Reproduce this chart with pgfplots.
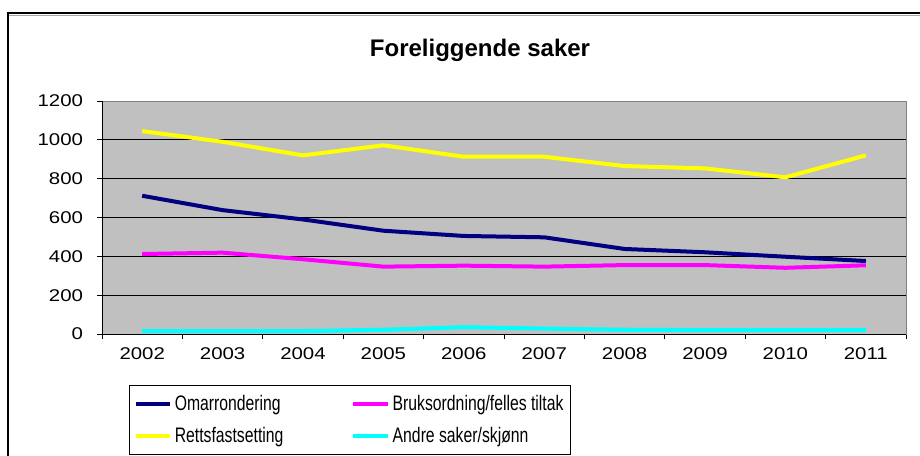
\documentclass[border=0pt]{standalone}
\usepackage{pgfplots}
\pgfplotsset{compat=1.18}
\usepackage{fontspec}
\setmainfont{Liberation Sans}
\newfontfamily\legfont[FakeStretch=0.75]{Liberation Sans}
\newfontfamily\tickfont[FakeStretch=1.2]{Liberation Sans}
\definecolor{navyc}{RGB}{0,0,128}
\definecolor{magc}{RGB}{255,0,255}
\definecolor{yelc}{RGB}{255,255,0}
\definecolor{cyac}{RGB}{0,255,255}
\definecolor{bgc}{RGB}{192,192,192}
\begin{document}
\begin{tikzpicture}
\useasboundingbox (0,0) rectangle (690pt,-341.25pt);
\clip (0,0) rectangle (690pt,-341.25pt);
\fill[white] (0,0) rectangle (690pt,-341.25pt);
\draw[gray!70, line width=0.75pt] (6.75pt,-11.4pt) -- (700pt,-11.4pt);
\draw[black, line width=1.5pt] (6pt,-400pt) -- (6pt,-10.1pt) -- (700pt,-10.1pt);
\node[font=\fontsize{18}{20}\selectfont\bfseries] at (360pt,-37.5pt) {Foreliggende saker};
\begin{axis}[
  at={(76.5pt,-250.5pt)}, anchor=south west,
  scale only axis, width=603pt, height=174.75pt,
  xmin=-0.5, xmax=9.5, ymin=0, ymax=1200,
  axis background/.style={fill=bgc},
  axis line style={gray, line width=0.75pt},
  xtick={0,...,9},
  xticklabels={2002,2003,2004,2005,2006,2007,2008,2009,2010,2011},
  major x tick style={draw=none},
  minor xtick={-0.5,0.5,...,9.5},
  minor tick length=3.75pt,
  major tick length=3.75pt,
  tick align=outside,
  tick pos=left,
  ytick={0,200,...,1200},
  ymajorgrids, grid style={black, line width=0.6pt},
  tick style={black, line width=0.6pt},
  ticklabel style={font=\tickfont\fontsize{12.75}{14}\selectfont},
  xticklabel style={yshift=-3pt},
  yticklabel style={xshift=-7pt},
  /pgf/number format/assume math mode=true,
  /pgf/number format/1000 sep={},
  legend columns=2,
  legend style={at={(0.0336,-0.219)}, anchor=north west,
    draw=black, line width=0.75pt, font=\legfont\fontsize{15.75}{17}\selectfont,
    inner xsep=3pt, inner ysep=5.5pt, row sep=7pt,
    /tikz/column 2/.style={column sep=49pt},
    /tikz/column 1/.style={column sep=0pt},
    /tikz/column 3/.style={column sep=0pt}},
  legend cell align=left,
  legend image code/.code={\draw[#1, line width=3pt] (0pt,0pt) -- (26pt,0pt);},
  every axis plot/.append style={line width=3pt},
]
\addplot[navyc] coordinates {(0,712) (1,638) (2,590) (3,532) (4,505) (5,498) (6,438) (7,421) (8,398) (9,376)};
\addlegendentry{Omarrondering}
\addplot[magc] coordinates {(0,412) (1,419) (2,385) (3,347) (4,352) (5,347) (6,355) (7,355) (8,341) (9,354)};
\addlegendentry{Bruksordning/felles tiltak}
\addplot[yelc] coordinates {(0,1045) (1,990) (2,920) (3,972) (4,913) (5,913) (6,865) (7,853) (8,807) (9,920)};
\addlegendentry{Rettsfastsetting}
\addplot[cyac] coordinates {(0,15) (1,15) (2,15) (3,22) (4,35) (5,28) (6,22) (7,20) (8,20) (9,20)};
\addlegendentry{Andre saker/skjønn}
\draw[black, line width=0.75pt] (axis description cs:0,0) -- (axis description cs:1,0);
\draw[black, line width=0.75pt] (axis description cs:0,0) -- (axis description cs:0,1);
\end{axis}
\end{tikzpicture}
\end{document}
